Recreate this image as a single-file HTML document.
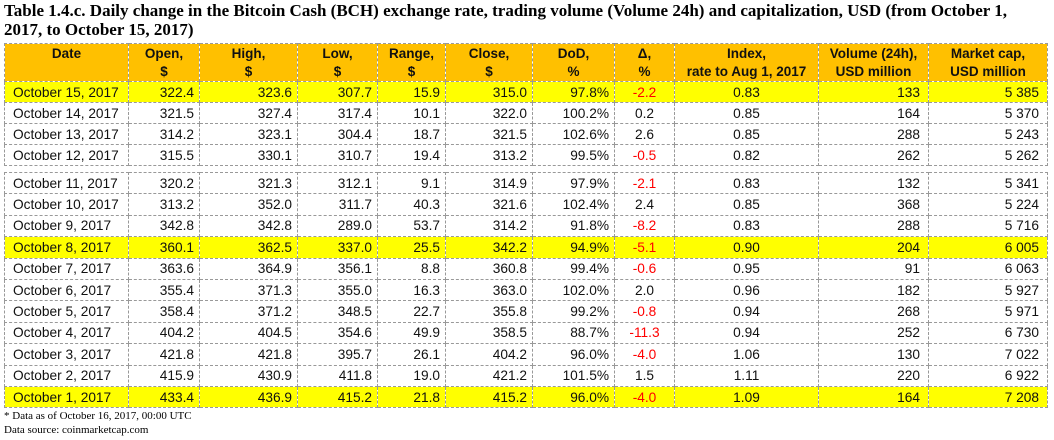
<!DOCTYPE html>
<html><head><meta charset="utf-8"><style>
body{margin:0;width:1054px;height:440px;background:#fff;position:relative;overflow:hidden;font-family:"Liberation Sans",Arial,sans-serif}
.title{position:absolute;left:4px;top:1px;width:1045px;font:bold 17px/19px "Liberation Serif",serif;color:#000}
table{position:absolute;left:4px;border-collapse:collapse;table-layout:fixed;font-size:13.7px;color:#111}
td{border:1px dashed #999;padding:0 5px;white-space:nowrap;overflow:hidden}
tr.hd td{background:#FFC000;text-align:center;font-weight:bold;line-height:18px;vertical-align:top;padding-top:1px;font-size:13.5px}
tr.hl td{background:#FFFF00}
.r{text-align:right}.c{text-align:center}.l{text-align:left}
.neg{color:#f00}
.note{position:absolute;left:4px;font:11px "Liberation Serif",serif;color:#000}
</style></head><body>
<div class="title">Table 1.4.c. Daily change in the Bitcoin Cash (BCH) exchange rate, trading volume (Volume 24h) and capitalization, USD (from October 1, 2017, to October 15, 2017)</div>
<table id="t1" style="top:43px"></table>
<table id="t2" style="top:172px"></table>
<div class="note" style="top:410px">* Data as of October 16, 2017, 00:00 UTC</div>
<div class="note" style="top:424px">Data source: coinmarketcap.com</div>
<script>
const widths=[124,71,98,80,68,87,82,60,144,110,119];
const aligns=['l','r','r','r','r','r','r','c','c','r','r'];
const headers=['Date','Open,<br>$','High,<br>$','Low,<br>$','Range,<br>$','Close,<br>$','DoD,<br>%','&Delta;,<br>%','Index,<br>rate to Aug 1, 2017','Volume (24h),<br>USD million','Market cap,<br>USD million'];
const dates=['October 15, 2017','October 14, 2017','October 13, 2017','October 12, 2017','October 11, 2017','October 10, 2017','October 9, 2017','October 8, 2017','October 7, 2017','October 6, 2017','October 5, 2017','October 4, 2017','October 3, 2017','October 2, 2017','October 1, 2017'];
const open=['322.4','321.5','314.2','315.5','320.2','313.2','342.8','360.1','363.6','355.4','358.4','404.2','421.8','415.9','433.4'];
const high=['323.6','327.4','323.1','330.1','321.3','352.0','342.8','362.5','364.9','371.3','371.2','404.5','421.8','430.9','436.9'];
const low=['307.7','317.4','304.4','310.7','312.1','311.7','289.0','337.0','356.1','355.0','348.5','354.6','395.7','411.8','415.2'];
const range=['15.9','10.1','18.7','19.4','9.1','40.3','53.7','25.5','8.8','16.3','22.7','49.9','26.1','19.0','21.8'];
const close=['315.0','322.0','321.5','313.2','314.9','321.6','314.2','342.2','360.8','363.0','355.8','358.5','404.2','421.2','415.2'];
const dod=['97.8%','100.2%','102.6%','99.5%','97.9%','102.4%','91.8%','94.9%','99.4%','102.0%','99.2%','88.7%','96.0%','101.5%','96.0%'];
const delta=['-2.2','0.2','2.6','-0.5','-2.1','2.4','-8.2','-5.1','-0.6','2.0','-0.8','-11.3','-4.0','1.5','-4.0'];
const index=['0.83','0.85','0.85','0.82','0.83','0.85','0.83','0.90','0.95','0.96','0.94','0.94','1.06','1.11','1.09'];
const volume=['133','164','288','262','132','368','288','204','91','182','268','252','130','220','164'];
const cap=['5 385','5 370','5 243','5 262','5 341','5 224','5 716','6 005','6 063','5 927','5 971','6 730','7 022','6 922','7 208'];
const highlighted=[0,7,14];
function addCols(t){const cg=document.createElement('colgroup');widths.forEach(w=>{const c=document.createElement('col');c.style.width=w+'px';cg.appendChild(c);});t.appendChild(cg);t.style.width=widths.reduce((a,b)=>a+b,0)+'px';}
const t1=document.getElementById('t1'),t2=document.getElementById('t2');
addCols(t1);addCols(t2);
const hr=document.createElement('tr');hr.className='hd';hr.style.height='37px';


headers.forEach(h=>{const td=document.createElement('td');td.innerHTML=h;


hr.appendChild(td);});
t1.appendChild(hr);
dates.forEach((d,i)=>{
  const tr=document.createElement('tr');
  tr.style.height=(i<4?'21px':'21.4px');
  if(highlighted.includes(i))tr.className='hl';
  
  
  const vals=[d,open[i],high[i],low[i],range[i],close[i],dod[i],delta[i],index[i],volume[i],cap[i]];
  vals.forEach((v,j)=>{const td=document.createElement('td');td.textContent=v;td.className=aligns[j]+(j==7&&v.startsWith('-')?' neg':'');
    if(j==0)td.style.paddingLeft='8px';
    if(j==9||j==10)td.style.paddingRight='8px';
    
    
    tr.appendChild(td);});
  (i<4?t1:t2).appendChild(tr);
});
</script>
</body></html>
